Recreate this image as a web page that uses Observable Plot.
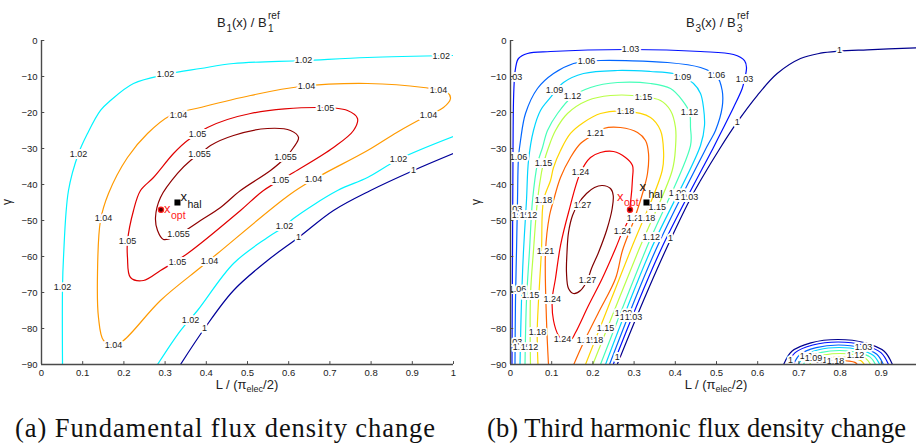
<!DOCTYPE html>
<html><head><meta charset="utf-8">
<script src="https://cdn.jsdelivr.net/npm/d3@7"></script>
<script src="https://cdn.jsdelivr.net/npm/@observablehq/plot@0.6"></script>
<style>
html,body{margin:0;padding:0;background:#fff;}
#wrap{position:relative;width:916px;height:446px;overflow:hidden;background:#fff;}
#wrap > svg{position:absolute;top:0;}
</style></head><body><div id="wrap"></div>
<script>
// ---------- axes ----------
const xTicksA = [0,0.1,0.2,0.3,0.4,0.5,0.6,0.7,0.8,0.9,1];
const xTicksB = [0,0.1,0.2,0.3,0.4,0.5,0.6,0.7,0.8,0.9];
const yTicks = [0,-10,-20,-30,-40,-50,-60,-70,-80,-90];

// ---------- panel (a): B1(x)/B1ref ----------
const levelsA = [1, 1.02, 1.04, 1.05, 1.055];
const a_1    = [[0.3374,-90],[0.3956,-80],[0.466,-69.44],[0.5485,-61.11],[0.6238,-54.72],[0.7087,-47.22],[0.7985,-41.67],[0.9029,-36.11],[1,-31.39]];
const a_102a = [[0.051,-90],[0.051,-68.61],[0.0534,-60.28],[0.0655,-41.67],[0.0898,-31.39],[0.1117,-25.83],[0.1432,-19.44],[0.1675,-16.67],[0.2233,-11.94],[0.301,-9.44],[0.3859,-7.78],[0.466,-6.39],[0.6359,-5.56],[0.7913,-4.72],[1,-4.17]];
const a_102b = [[0.2816,-90],[0.3374,-80.56],[0.3786,-75],[0.466,-61.94],[0.5485,-54.72],[0.5898,-51.67],[0.6117,-49.44],[0.7184,-41.67],[0.7913,-38.06],[0.8665,-33.06],[1,-26.67]];
const a_104  = [[0.1748,-84.72],[0.1505,-83.33],[0.1383,-76.94],[0.1359,-64.72],[0.1432,-50],[0.1626,-42.5],[0.2087,-32.5],[0.2573,-25.83],[0.3131,-20.83],[0.3859,-18.61],[0.5073,-15.28],[0.6286,-12.78],[0.7913,-11.94],[0.9272,-13.06],[0.9854,-14.44],[0.9927,-16.11],[0.9757,-18.61],[0.9369,-20.83],[0.8633,-25.47],[0.7913,-30.56],[0.6602,-38.61],[0.5995,-43.06],[0.4272,-59.17],[0.3859,-63.06],[0.2888,-72.22],[0.199,-83.33]];
const a_105  = [[0.4029,-24.17],[0.5073,-20.28],[0.6699,-18.61],[0.7427,-19.44],[0.767,-21.67],[0.7573,-25],[0.7087,-29.72],[0.6117,-36.67],[0.5388,-41.67],[0.483,-47.22],[0.3544,-59.17],[0.2888,-63.89],[0.2476,-66.67],[0.216,-65.83],[0.2087,-60.28],[0.2087,-55.83],[0.2233,-47.22],[0.2403,-41.67],[0.2718,-38.06],[0.3204,-31.39],[0.3544,-27.78],[0.3786,-26.11]];
const a_1055 = [[0.4102,-29.17],[0.466,-26.39],[0.5485,-24.44],[0.6044,-25],[0.6238,-26.94],[0.6117,-29.72],[0.5922,-32.5],[0.5558,-36.11],[0.483,-41.67],[0.4345,-46.39],[0.3859,-50],[0.3325,-53.89],[0.2961,-55.28],[0.2816,-52.78],[0.2767,-49.17],[0.2888,-43.61],[0.3301,-36.94],[0.3617,-33.33],[0.3835,-31.67]];
const labelsA = [
  ["1.02",0.6359,-5.56],["1.02",0.9701,-4.36],["1.02",0.301,-9.44],["1.02",0.0898,-31.67],["1.02",0.051,-68.61],
  ["1.02",0.8665,-33.06],["1.02",0.5898,-51.67],["1.02",0.3617,-77.78],
  ["1",0.9029,-36.11],["1",0.6238,-54.72],["1",0.3956,-80],
  ["1.04",0.6432,-12.69],["1.04",0.9636,-13.89],["1.04",0.9393,-20.83],["1.04",0.3325,-20.83],["1.04",0.6602,-38.61],
  ["1.04",0.1505,-49.44],["1.04",0.4078,-61.39],["1.04",0.1748,-84.72],
  ["1.05",0.6893,-18.89],["1.05",0.3786,-26.11],["1.05",0.5801,-38.89],["1.05",0.2087,-55.83],["1.05",0.3301,-61.67],
  ["1.055",0.3835,-31.67],["1.055",0.5922,-32.5],["1.055",0.3325,-53.89]
];

// ---------- panel (b): B3(x)/B3ref ----------
const levelsB = [1, 1.03, 1.06, 1.09, 1.12, 1.15, 1.18, 1.21, 1.24, 1.27];
const b_1   = [[0.259,-90],[0.3228,-72.22],[0.3762,-58.33],[0.4369,-43.89],[0.4612,-38.89],[0.5097,-29.72],[0.5502,-22.69],[0.5988,-15.28],[0.6473,-9.17],[0.7039,-5],[0.7524,-3.53],[0.7961,-2.97],[0.8658,-2.58],[0.9854,-2.03],[1,-2.0]];
const b_103 = [[0.0036,-90],[0.0049,-58.33],[0.0061,-30.56],[0.0073,-16.67],[0.0097,-10.28],[0.0121,-7.78],[0.0194,-5],[0.0413,-3.61],[0.0971,-3.06],[0.2913,-2.5],[0.4612,-3.06],[0.5413,-3.89],[0.568,-5.56],[0.5728,-7.5],[0.568,-10.83],[0.5624,-13.33],[0.5413,-18.61],[0.5097,-25.83],[0.4951,-29.17],[0.3641,-58.33],[0.2493,-90]];
const b_106 = [[0.0109,-90],[0.0121,-72.22],[0.0146,-58.33],[0.017,-44.44],[0.0194,-32.5],[0.0243,-27.78],[0.0364,-20.28],[0.0655,-13.33],[0.1044,-9.17],[0.1529,-6.39],[0.1845,-5.83],[0.2184,-5.56],[0.3811,-6.11],[0.4612,-7.5],[0.5,-9.72],[0.5138,-13.89],[0.5138,-18.53],[0.4976,-25],[0.4782,-29.17],[0.3519,-58.33],[0.2403,-90]];
const b_109 = [[0.0231,-90],[0.0267,-72.22],[0.0316,-58.33],[0.0388,-44.44],[0.0437,-33.33],[0.0558,-25],[0.0728,-19.44],[0.0971,-15.83],[0.1286,-11.67],[0.1772,-9.17],[0.2597,-8.33],[0.3398,-8.61],[0.3956,-9.17],[0.4175,-10.28],[0.4442,-11.94],[0.4612,-14.72],[0.4684,-18.61],[0.4709,-23.61],[0.4612,-29.17],[0.3398,-58.33],[0.2306,-90]];
const b_112 = [[0.0352,-90],[0.0388,-72.22],[0.0461,-58.33],[0.0534,-44.44],[0.0655,-34.17],[0.0777,-29.72],[0.0898,-25],[0.1141,-20.28],[0.1505,-15.56],[0.1942,-13.06],[0.2597,-11.67],[0.3398,-11.94],[0.3883,-13.33],[0.4175,-16.67],[0.4345,-20],[0.4369,-24.17],[0.4369,-29.17],[0.3277,-58.33],[0.2184,-90]];
const b_115 = [[0.0485,-90],[0.0485,-70.83],[0.0558,-58.33],[0.0655,-44.44],[0.0752,-36.67],[0.0801,-34.17],[0.0922,-29.72],[0.1092,-25],[0.1383,-20.28],[0.1869,-16.67],[0.2427,-15.28],[0.3228,-15.56],[0.3641,-16.67],[0.3883,-19.44],[0.4005,-24.17],[0.4005,-29.72],[0.3925,-36.11],[0.3107,-58.33],[0.1998,-90]];
const b_118 = [[0.0667,-90],[0.0648,-81.11],[0.068,-72.22],[0.0752,-58.33],[0.0801,-44.44],[0.0971,-38.89],[0.1044,-35.28],[0.1214,-30.56],[0.1456,-25.83],[0.1772,-22.78],[0.2184,-20.28],[0.2791,-19.64],[0.3398,-21.39],[0.3641,-25],[0.3714,-30.56],[0.3682,-36.11],[0.2913,-58.33],[0.182,-90]];
const b_121 = [[0.0922,-90],[0.0874,-77.78],[0.085,-58.61],[0.0947,-48.61],[0.1044,-44.44],[0.1214,-38.06],[0.1456,-32.5],[0.1699,-28.61],[0.2063,-25.83],[0.2257,-24.44],[0.267,-24.17],[0.3083,-25.56],[0.3277,-27.78],[0.335,-31.39],[0.3325,-36.94],[0.3204,-42.5],[0.301,-49.44],[0.2718,-58.33],[0.2549,-66.11],[0.2136,-75.56],[0.1739,-84.72],[0.1536,-90]];
const b_124 = [[0.1456,-83.33],[0.1578,-81.11],[0.1893,-73.61],[0.2226,-66.11],[0.2549,-57.78],[0.2718,-53.06],[0.2833,-50.56],[0.2913,-45],[0.2961,-38.33],[0.2961,-34.72],[0.2791,-32.5],[0.25,-30.83],[0.2184,-31.11],[0.1942,-32.5],[0.1699,-36.67],[0.1408,-47.78],[0.1214,-56.94],[0.1092,-66.11],[0.1012,-71.94],[0.1044,-77.78],[0.1165,-81.94],[0.1286,-83.33]];
const b_127 = [[0.2226,-40.28],[0.2427,-41.11],[0.2493,-43.06],[0.2468,-46.67],[0.2347,-52.22],[0.2136,-58.89],[0.1966,-63.33],[0.1862,-66.67],[0.1699,-69.44],[0.1529,-70.28],[0.1408,-68.89],[0.1359,-64.44],[0.1371,-58.89],[0.1408,-53.33],[0.1505,-48.61],[0.165,-45.28],[0.1845,-42.5],[0.2039,-40.83]];
// small arcs at the bottom right
const arc_100 = [[0.663,-90],[0.683,-86.34],[0.729,-83.99],[0.795,-83.06],[0.861,-83.99],[0.907,-86.34],[0.927,-90]];
const arc_103 = [[0.6725,-90],[0.6909,-86.71],[0.7338,-84.59],[0.795,-83.75],[0.8563,-84.59],[0.8991,-86.71],[0.9175,-90]];
const arc_106 = [[0.687,-90],[0.703,-87.14],[0.742,-85.31],[0.796,-84.58],[0.851,-85.31],[0.889,-87.14],[0.905,-90]];
const arc_109 = [[0.699,-90],[0.714,-87.51],[0.748,-85.91],[0.798,-85.28],[0.847,-85.91],[0.881,-87.51],[0.896,-90]];
const arc_112 = [[0.711,-90],[0.724,-87.95],[0.755,-86.63],[0.799,-86.11],[0.842,-86.63],[0.873,-87.95],[0.886,-90]];
const arc_115 = [[0.726,-90],[0.737,-88.39],[0.763,-87.35],[0.8,-86.94],[0.837,-87.35],[0.863,-88.39],[0.874,-90]];
const arc_118 = [[0.74,-90],[0.749,-88.9],[0.77,-88.2],[0.8,-87.92],[0.829,-88.2],[0.85,-88.9],[0.859,-90]];
const arc_121 = [[0.76,-90],[0.766,-89.41],[0.781,-89.04],[0.801,-88.89],[0.822,-89.04],[0.836,-89.41],[0.842,-90]];
const labelsB = [
  ["1.03",0.2913,-2.5],["1.03",0.568,-10.83],["1.03",0.0073,-10.28],["1.03",0.0073,-46.94],["1.03",0.0073,-83.89],
  ["1.06",0.1845,-5.83],["1.06",0.5,-9.72],["1.06",0.0194,-32.5],["1.06",0.017,-69.17],
  ["1.09",0.1068,-13.89],["1.09",0.4175,-10.28],["1.09",0.0243,-48.61],["1.09",0.0267,-85.28],
  ["1.12",0.1505,-15.56],["1.12",0.4345,-20],["1.12",0.0437,-48.61],["1.12",0.0461,-85.28],
  ["1.15",0.3228,-15.83],["1.15",0.0801,-34.17],["1.15",0.0485,-70.83],
  ["1.18",0.2791,-19.72],["1.18",0.0801,-44.44],["1.18",0.0655,-81.11],
  ["1.21",0.2063,-25.83],["1.21",0.085,-58.61],
  ["1.24",0.1699,-36.67],["1.24",0.1012,-71.94],["1.24",0.2718,-53.06],["1.24",0.1262,-83.06],
  ["1.27",0.1748,-45.83],["1.27",0.1869,-66.67],
  ["1.21",0.3034,-49.44],["1.18",0.3301,-49.44],["1.15",0.3561,-46.39],["1.12",0.3415,-54.64],["1",0.3883,-54.92],
  ["1.09",0.4053,-42.5],["1.06",0.4199,-43.61],["1.03",0.4345,-43.61],
  ["1.09",0.2743,-75.83],["1.06",0.2864,-76.94],["1.03",0.2985,-76.94],
  ["1.15",0.2306,-80],["1.21",0.182,-83.33],["1.18",0.2039,-83.33],["1",0.259,-88],
  ["1",0.7985,-2.78],["1",0.5502,-22.69],
  ["1.03",0.8568,-85.28],["1.12",0.8374,-87.5],["1.15",0.7597,-88.89],["1.18",0.7888,-89.08],
  ["1.06",0.7233,-87.78],["1.09",0.7354,-88.33],["1",0.6796,-88.89]
];

// optimum and Halbach points
const xOpt = [0.29, -47];
const xHal = [0.33, -45];

// ---------- palettes (jet) ----------
const colorsA = ["#00009a", "#00f4ff", "#ff9a00", "#e00000", "#8f0000"];
const colorsB = ["#00008f", "#0010ff", "#0066ff", "#00d5ff", "#46ffb9", "#b9ff46", "#ffd500", "#ff6300", "#f20000", "#800000"];

function rows(list) {
  return list.flatMap(([lev, pts], i) => pts.map(([x, y]) => ({id: i, lev, x, y})));
}
const fmtY = d3.format("");
const fmtX = d => String(d);

function panel({open, closed, labels, levels, colors, ml, mr, xTicks, markerText}) {
  return Plot.plot({
    width: 470, height: 400,
    marginLeft: ml, marginRight: mr, marginTop: 40, marginBottom: 36,
    x: {domain: [0, 1], ticks: xTicks, tickFormat: fmtX, tickSize: 0, tickPadding: 5, label: null},
    y: {domain: [-90, 0], ticks: yTicks, tickFormat: fmtY, tickSize: 0, tickPadding: 4, label: null},
    color: {type: "ordinal", domain: levels, range: colors},
    style: {fontFamily: "'Liberation Sans', Arial, sans-serif", fontSize: "9.5px", color: "#222", background: "transparent", overflow: "visible"},
    marks: [
      Plot.line(rows(open), {x: "x", y: "y", z: "id", stroke: "lev", strokeWidth: 1.2, curve: "catmull-rom", clip: true}),
      Plot.line(rows(closed), {x: "x", y: "y", z: "id", stroke: "lev", strokeWidth: 1.2, curve: "catmull-rom-closed", clip: true}),
      Plot.text(labels, {x: d => d[1], y: d => d[2], text: d => d[0], fontSize: 9, fill: "#222", stroke: "white", strokeWidth: 4, paintOrder: "stroke", clip: true}),
      Plot.ruleX([0], {y1: -90, y2: 0, stroke: "#4a4a4a", strokeWidth: 1.4}),
      Plot.ruleY([-90], {x1: 0, x2: 1, stroke: "#4a4a4a", strokeWidth: 1.4}),
      Plot.ruleX(xTicks, {x: d => d, y1: -90, y2: -89.2, stroke: "#4a4a4a"}),
      Plot.ruleY(yTicks, {y: d => d, x1: 0, x2: 0.008, stroke: "#4a4a4a"}),
      Plot.dot([xOpt], {x: d => d[0], y: d => d[1], r: 2.6, fill: "#5a0000", stroke: "#ff1a1a", strokeWidth: 1.2}),
      Plot.dot([xHal], {x: d => d[0], y: d => d[1], symbol: "square", r: 3.4, fill: "#000"}),
      ...markerText
    ]
  });
}

function markerTexts(h, o) {
  return [
    Plot.text([xHal], {x: d => d[0], y: d => d[1], text: () => "x", dx: h[0], dy: h[1], textAnchor: "start", fontSize: 13, fill: "#111"}),
    Plot.text([xHal], {x: d => d[0], y: d => d[1], text: () => "hal", dx: h[2], dy: h[3], textAnchor: "start", fontSize: 10.5, fill: "#111"}),
    Plot.text([xOpt], {x: d => d[0], y: d => d[1], text: () => "x", dx: o[0], dy: o[1], textAnchor: "start", fontSize: 13, fill: "#ff1a1a"}),
    Plot.text([xOpt], {x: d => d[0], y: d => d[1], text: () => "opt", dx: o[2], dy: o[3], textAnchor: "start", fontSize: 10.5, fill: "#ff1a1a"})
  ];
}

const wrap = document.getElementById("wrap");

const pa = panel({
  open: [[1, a_1], [1.02, a_102a], [1.02, a_102b]],
  closed: [[1.04, a_104], [1.05, a_105], [1.055, a_1055]],
  labels: labelsA, levels: levelsA, colors: colorsA, ml: 41, mr: 17, xTicks: xTicksA,
  markerText: markerTexts([3, -6, 10, 2], [3, -1, 10, 6])
});
pa.style.left = "0px";
wrap.appendChild(pa);

const pb = panel({
  open: [[1, b_1], [1.03, b_103], [1.06, b_106], [1.09, b_109], [1.12, b_112], [1.15, b_115], [1.18, b_118], [1.21, b_121],
         [1, arc_100], [1.03, arc_103], [1.06, arc_106], [1.09, arc_109], [1.12, arc_112], [1.15, arc_115], [1.18, arc_118], [1.21, arc_121]],
  closed: [[1.24, b_124], [1.27, b_127]],
  labels: labelsB, levels: levelsB, colors: colorsB, ml: 42, mr: 16, xTicks: xTicksB,
  markerText: markerTexts([-7, -16, 2, -8], [-13, -13, -6, -7])
});
pb.style.left = "468px";
wrap.appendChild(pb);

// ---------- titles, axis labels, captions ----------
const ov = d3.select(wrap).append("svg")
  .attr("width", 916).attr("height", 446)
  .style("left", "0px").style("pointer-events", "none")
  .attr("font-family", "'Liberation Sans', Arial, sans-serif").attr("fill", "#222");

function title(cx, n) {
  const g = ov.append("g").attr("transform", `translate(${cx - 30},0)`);
  g.append("text").attr("x", 0).attr("y", 27).attr("font-size", 13).text("B");
  g.append("text").attr("x", 9.5).attr("y", 31.5).attr("font-size", 10).text(n);
  g.append("text").attr("x", 15).attr("y", 27).attr("font-size", 13).text("(x) / B");
  g.append("text").attr("x", 51).attr("y", 19).attr("font-size", 10).text("ref");
  g.append("text").attr("x", 51).attr("y", 32).attr("font-size", 10).text(n);
}
title(247, "1");
title(716, "3");

function xlabel(cx) {
  const t = ov.append("text").attr("x", cx).attr("y", 389).attr("text-anchor", "middle").attr("font-size", 13);
  t.append("tspan").text("L / (π");
  t.append("tspan").attr("font-size", 9).attr("dy", 3).text("elec");
  t.append("tspan").attr("dy", -3).text("/2)");
}
xlabel(247);
xlabel(716);

function ylabel(x) {
  ov.append("text").attr("transform", `translate(${x},202) rotate(-90)`).attr("text-anchor", "middle")
    .attr("font-size", 12).text("γ");
}
ylabel(11);
ylabel(480);

function caption(x0, w, s) {
  ov.append("text").attr("x", x0).attr("y", 437).attr("font-family", "'Liberation Serif', 'Times New Roman', serif")
    .attr("font-size", 26.5).attr("fill", "#111").attr("textLength", w).attr("lengthAdjust", "spacing").text(s);
}
caption(15, 420, "(a) Fundamental flux density change");
caption(487, 419, "(b) Third harmonic flux density change");
</script></body></html>
